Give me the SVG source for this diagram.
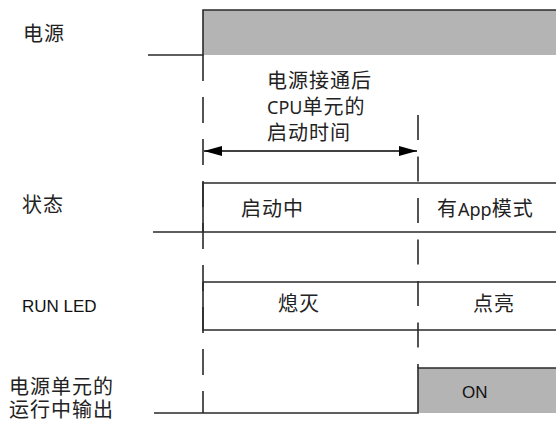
<svg xmlns="http://www.w3.org/2000/svg" width="556" height="423" viewBox="0 0 556 423">
<style>
.t{font-family:"Noto Sans CJK SC","Noto Sans",sans-serif;font-size:20px;fill:#222;letter-spacing:1px}
.l{font-family:"Noto Sans","Liberation Sans",sans-serif;font-size:18px;letter-spacing:0}
.e{font-family:"Liberation Sans",Arial,sans-serif;font-size:17px;fill:#111}
.ln{stroke:#2a2a2a;stroke-width:1.6;fill:none}
.d{stroke:#2a2a2a;stroke-width:1.6;fill:none}
.g{fill:#b4b4b4;stroke:none}
</style>
<defs>
<marker id="ah" viewBox="0 0 18 10" refX="18" refY="5" markerWidth="18" markerHeight="10" markerUnits="userSpaceOnUse" orient="auto-start-reverse">
<path d="M0,0 L18,5 L0,10 Z" fill="#000"/>
</marker>
</defs>
<g id="labels">
<text class="t" x="23" y="41">电源</text>
<text class="t" x="22" y="212">状态</text>
<text class="e" x="22" y="312">RUN LED</text>
<text class="t" x="9" y="394">电源单元的<tspan x="9" dy="23">运行中输出</tspan></text>
</g>
<g id="power">
<rect class="g" x="203" y="10" width="353" height="45"/>
<path class="ln" d="M148,55 H203 V10 H556"/>
</g>
<g id="state">
<path class="ln" d="M203,232 V183 H556 M153,232 H556"/>
<text class="t" x="241" y="216">启动中</text>
<text class="t" x="437" y="216">有<tspan class="l">App</tspan>模式</text>
</g>
<g id="runled">
<path class="ln" d="M203,282 H556 M203,282 V330 H556"/>
<text class="t" x="278" y="311">熄灭</text>
<text class="t" x="473" y="311">点亮</text>
</g>
<g id="output">
<rect class="g" x="418" y="368" width="138" height="45"/>
<path class="ln" d="M154,413 H418 V368 H556"/>
<text class="e" x="462" y="398">ON</text>
</g>
<g id="startup-label">
<text class="t" x="267" y="88">电源接通后<tspan x="267" dy="26"><tspan class="l">CPU</tspan>单元的</tspan><tspan x="267" dy="26">启动时间</tspan></text>
</g>
<g id="connectors">
<line class="d" x1="203" y1="55" x2="203" y2="413" stroke-dasharray="26 16"/>
<line class="d" x1="418" y1="115" x2="418" y2="368" stroke-dasharray="25 16.5"/>
<line x1="204" y1="151" x2="417" y2="151" stroke="#000" stroke-width="1.6" marker-start="url(#ah)" marker-end="url(#ah)"/>
</g>
</svg>
